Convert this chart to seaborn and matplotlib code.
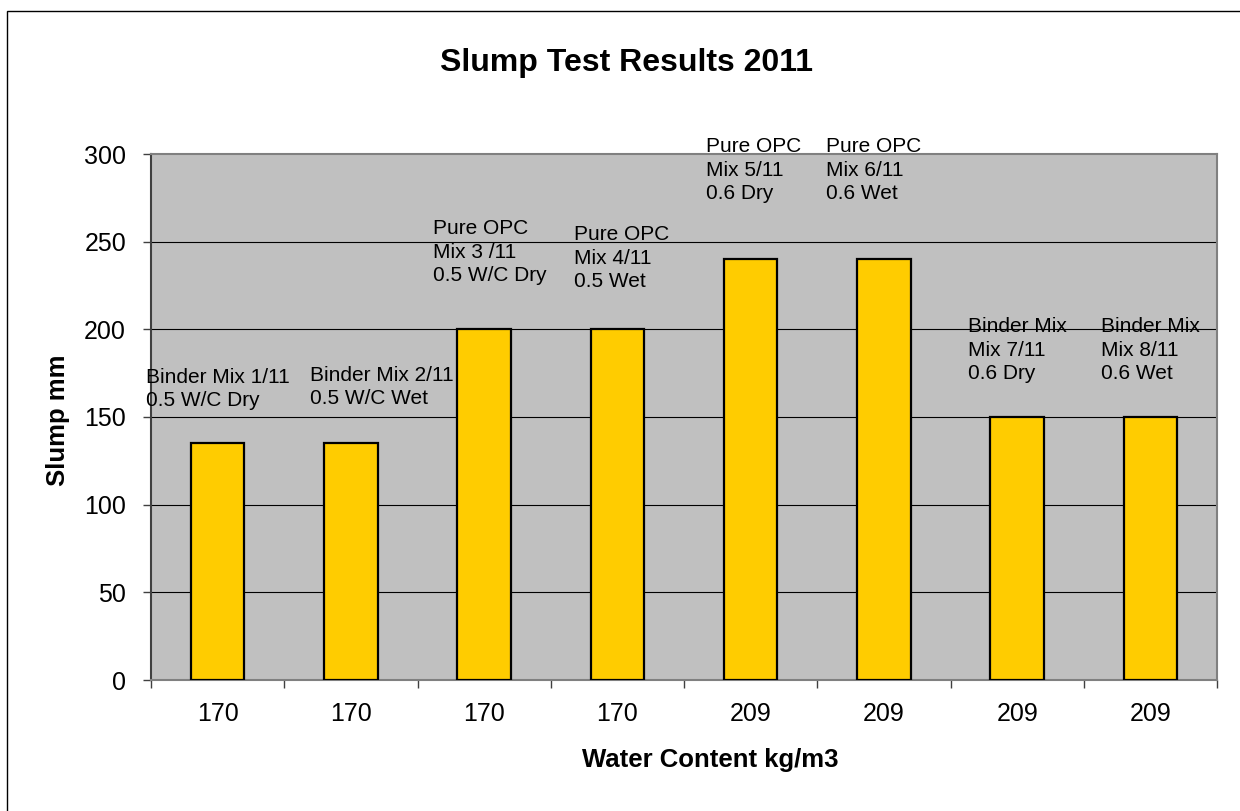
import matplotlib.pyplot as plt
import numpy as np
import pandas as pd
import seaborn as sns
from matplotlib.patches import Rectangle

MIX_IDS = ["1/11", "2/11", "3/11", "4/11", "5/11", "6/11", "7/11", "8/11"]
WATER_CONTENT = ["170", "170", "170", "170", "209", "209", "209", "209"]
SLUMP_MM = [135, 135, 200, 200, 240, 240, 150, 150]
BAR_LABELS = [
    "Binder Mix 1/11\n0.5 W/C Dry",
    "Binder Mix 2/11\n0.5 W/C Wet",
    "Pure OPC\nMix 3 /11\n0.5 W/C Dry",
    "Pure OPC\nMix 4/11\n0.5 Wet",
    "Pure OPC\nMix 5/11\n0.6 Dry",
    "Pure OPC\nMix 6/11\n0.6 Wet",
    "Binder Mix\nMix 7/11\n0.6 Dry",
    "Binder Mix\nMix 8/11\n0.6 Wet",
]
Y_TICKS = [0, 50, 100, 150, 200, 250, 300]

# label nudges (pixels), hand placed like in the original sheet
LABEL_DX = [0, 31, 6, 4, 3, -10, 0, 0]
LABEL_DY = [33, 35, 44, 38, 56, 56, 34, 34]

BAR_COLOR = "#FFCC00"
PLOT_BG = "#C0C0C0"
FONT = ["Liberation Sans", "DejaVu Sans"]


def main() -> None:
    sns.set_style("white")
    plt.rcParams["font.family"] = FONT
    plt.rcParams["text.color"] = "black"
    plt.rcParams["axes.labelcolor"] = "black"
    plt.rcParams["xtick.labelcolor"] = "black"
    plt.rcParams["ytick.labelcolor"] = "black"

    df = pd.DataFrame({"mix": MIX_IDS, "slump": SLUMP_MM})

    fig = plt.figure(figsize=(12.4, 8.11), dpi=100)
    ax = fig.add_axes([151 / 1240, 1 - 680 / 811, 1066 / 1240, 526 / 811])
    ax.set_facecolor(PLOT_BG)

    sns.barplot(
        data=df,
        x="mix",
        y="slump",
        order=MIX_IDS,
        color=BAR_COLOR,
        saturation=1,
        width=0.4,
        edgecolor="black",
        linewidth=1.6,
        ax=ax,
        zorder=3,
    )

    ax.set_ylim(0, 300)
    ax.set_xlim(-0.5, len(MIX_IDS) - 0.5)
    ax.set_yticks(Y_TICKS)
    ax.set_yticklabels([str(v) for v in Y_TICKS], fontsize=18)
    ax.set_xticks(np.arange(len(MIX_IDS)))
    ax.set_xticklabels(WATER_CONTENT, fontsize=18)
    ax.set_xticks(np.arange(len(MIX_IDS) + 1) - 0.5, minor=True)

    ax.tick_params(axis="y", which="major", direction="out", length=6,
                   width=1, color="#404040", labelcolor="black", pad=12, left=True)
    ax.tick_params(axis="x", which="major", length=0, pad=16, labelcolor="black")
    ax.tick_params(axis="x", which="minor", direction="out", length=6,
                   width=1, color="#404040", bottom=True)

    for y in Y_TICKS[1:-1]:
        ax.axhline(y, color="black", linewidth=0.8, zorder=1)

    for side in ("top", "right", "bottom"):
        ax.spines[side].set_color("#808080")
        ax.spines[side].set_linewidth(1.5)
    ax.spines["left"].set_color("#404040")
    ax.spines["left"].set_linewidth(1.5)

    for i, (text, val) in enumerate(zip(BAR_LABELS, SLUMP_MM)):
        ax.annotate(
            text,
            xy=(i, val),
            xytext=(LABEL_DX[i] * 0.72, LABEL_DY[i] * 0.72),
            textcoords="offset points",
            ha="center",
            va="bottom",
            multialignment="left",
            fontsize=15,
            linespacing=1.3,
            color="black",
            annotation_clip=False,
            zorder=4,
        )

    ax.set_xlabel("Water Content kg/m3", fontsize=18.5, fontweight="bold", color="black")
    ax.xaxis.set_label_coords((710 - 151) / 1066, -(748 - 680) / 526)
    ax.set_ylabel("Slump mm", fontsize=18.5, fontweight="bold", va="center", color="black")
    ax.yaxis.set_label_coords((58 - 151) / 1066, (680 - 420) / 526)

    fig.text(626 / 1240, 1 - 63 / 811, "Slump Test Results 2011",
             ha="center", va="center", fontsize=23, fontweight="bold", color="black")

    # chart-area border, like the Excel frame
    fig.patches.append(Rectangle(
        (7 / 1240, -0.02), 1.05, 1 - 11 / 811 + 0.02,
        transform=fig.transFigure, fill=False, edgecolor="black", linewidth=1,
    ))

    fig.savefig("out.png", dpi=100)


if __name__ == "__main__":
    main()
